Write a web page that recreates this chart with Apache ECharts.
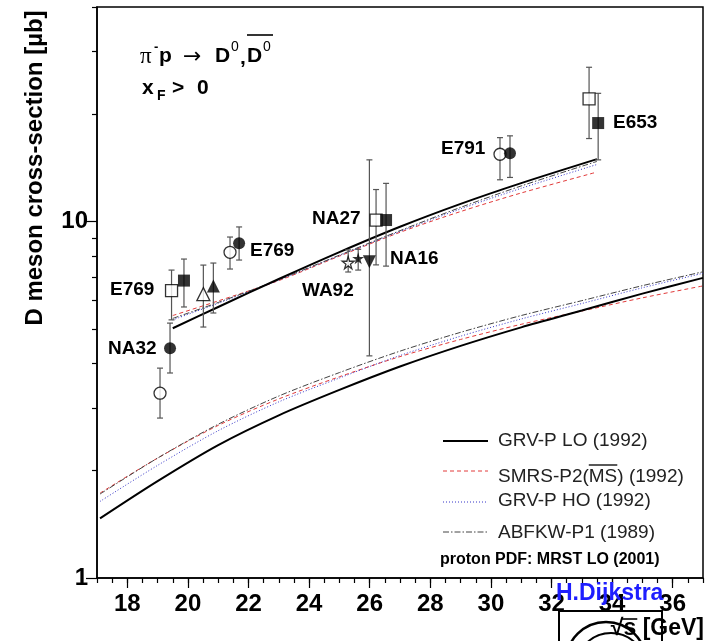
<!DOCTYPE html>
<html><head><meta charset="utf-8">
<script src="https://cdn.jsdelivr.net/npm/echarts@6/dist/echarts.min.js"></script>
<style>html,body{margin:0;padding:0;background:#fff}#c{width:722px;height:641px}</style>
</head><body><div id="c"></div>
<script>
// ---------- tick labels ----------
const xMajorTicks = [18, 20, 22, 24, 26, 28, 30, 32, 34, 36];
const yMajorTicks = [1, 10];
const yMinorTicks = [2, 3, 4, 5, 6, 7, 8, 9, 20, 30, 40];

// ---------- theory curves ----------
const upperX      = [19.5, 21, 23, 25, 27, 29, 31, 33.5];
const upperGrvLo  = [5.02, 5.76, 6.90, 8.21, 9.67, 11.21, 12.82, 14.97];
const upperSmrs   = [5.45, 5.99, 6.83, 8.00, 9.33, 10.67, 12.03, 13.77];
const upperGrvHo  = [5.30, 5.90, 6.85, 8.03, 9.38, 10.85, 12.40, 14.46];
const upperAbfkw  = [5.35, 5.93, 6.87, 8.05, 9.43, 10.96, 12.59, 14.75];

const lowerX      = [17.1, 19, 21, 23, 25, 27, 29, 31, 33, 35, 37];
const lowerGrvLo  = [1.47, 1.87, 2.36, 2.86, 3.37, 3.92, 4.48, 5.05, 5.63, 6.28, 6.95];
const lowerSmrs   = [1.73, 2.17, 2.68, 3.18, 3.67, 4.18, 4.67, 5.15, 5.61, 6.11, 6.60];
const lowerGrvHo  = [1.64, 2.07, 2.59, 3.12, 3.64, 4.21, 4.77, 5.33, 5.89, 6.52, 7.16];
const lowerAbfkw  = [1.72, 2.17, 2.70, 3.24, 3.77, 4.33, 4.89, 5.45, 6.00, 6.61, 7.23];

// ---------- measurements (x, value, lower, upper) ----------
const openCircleX  = [19.08, 21.39, 30.30];
const openCircleY  = [3.30, 8.20, 15.45];
const openCircleLo = [2.81, 7.36, 13.1];
const openCircleHi = [3.88, 9.05, 17.2];

const filledCircleX  = [19.41, 21.69, 30.63];
const filledCircleY  = [4.41, 8.70, 15.55];
const filledCircleLo = [3.76, 7.80, 13.3];
const filledCircleHi = [5.19, 9.66, 17.4];

const openSquareX  = [19.46, 26.21, 33.24];
const openSquareY  = [6.40, 10.1, 22.1];
const openSquareLo = [5.30, 7.56, 17.1];
const openSquareHi = [7.31, 12.3, 27.1];

const filledSquareX  = [19.87, 26.54, 33.54];
const filledSquareY  = [6.83, 10.1, 18.9];
const filledSquareLo = [5.76, 7.5, 14.9];
const filledSquareHi = [7.85, 12.8, 22.9];

const openTriX  = [20.51]; const openTriY  = [6.26]; const openTriLo  = [5.06]; const openTriHi  = [7.55];
const filledTriX = [20.84]; const filledTriY = [6.60]; const filledTriLo = [5.54]; const filledTriHi = [7.65];
const openStarX = [25.29]; const openStarY = [7.67]; const openStarLo = [7.22]; const openStarHi = [8.33];
const filledStarX = [25.62]; const filledStarY = [7.89]; const filledStarLo = [7.31]; const filledStarHi = [8.36];
const downTriX = [25.99]; const downTriY = [7.72]; const downTriLo = [4.20]; const downTriHi = [14.9];

// ---------- helpers ----------
const zip2 = (a, b) => a.map((v, i) => [v, b[i]]);
const zip4 = (a, b, c, d) => a.map((v, i) => [v, b[i], c[i], d[i]]);
const mctx = document.createElement('canvas').getContext('2d');
function tw(text, font) { mctx.font = font; return mctx.measureText(text).width; }

const STAR = 'path://M50,0 L61,35 L98,35 L68,57 L79,91 L50,70 L21,91 L32,57 L2,35 L39,35 Z';

function errSeries(x, y, lo, hi) {
  return {
    type: 'custom', xAxisIndex: 0, yAxisIndex: 0, z: 3, silent: true,
    data: zip4(x, y, lo, hi),
    encode: { x: 0, y: [1, 2, 3] },
    renderItem(params, api) {
      const xv = api.value(0);
      const pt = api.coord([xv, api.value(3)]);
      const pb = api.coord([xv, api.value(2)]);
      const st = { stroke: '#555', lineWidth: 1.2 };
      const cw = 3;
      return { type: 'group', children: [
        { type: 'line', shape: { x1: pt[0], y1: pt[1], x2: pb[0], y2: pb[1] }, style: st },
        { type: 'line', shape: { x1: pt[0] - cw, y1: pt[1], x2: pt[0] + cw, y2: pt[1] }, style: st },
        { type: 'line', shape: { x1: pb[0] - cw, y1: pb[1], x2: pb[0] + cw, y2: pb[1] }, style: st }
      ]};
    }
  };
}
function markSeries(x, y, symbol, size, filled, rotate) {
  return {
    type: 'scatter', xAxisIndex: 0, yAxisIndex: 0, z: 4, silent: true,
    data: zip2(x, y), symbol, symbolSize: size, symbolRotate: rotate || 0,
    itemStyle: { color: filled ? '#000' : '#fff', borderColor: '#000', borderWidth: filled ? 0 : 1.3 }
  };
}
function curve(x, y, color, width, dash) {
  return {
    type: 'line', xAxisIndex: 0, yAxisIndex: 0, z: 2, silent: true,
    data: zip2(x, y), showSymbol: false, symbol: 'none', smooth: 0.3,
    lineStyle: { color, width, type: dash }
  };
}

const RED = '#e23a3a', BLUE = '#3434c8', DD = '#444';
const DASH_RED = [4, 3], DOT_BLUE = [1, 2], DASHDOT = [6, 2, 1.5, 2];

// ---------- minor x ticks every 0.5 ----------
const xMinorTicks = [];
for (let v = 17; v <= 37.001; v += 0.5) xMinorTicks.push(+v.toFixed(1));

// ---------- graphic annotations ----------
const LF = '"Liberation Sans", Arial, sans-serif';
const g = [];
function T(text, x, y, font, opts) {
  g.push(Object.assign({ type: 'text', x, y, silent: true, z: 100,
    style: Object.assign({ text, font, fill: '#000', align: 'left', verticalAlign: 'middle' }, (opts && opts.style) || {}) },
    opts && opts.el || {}));
}
function L(x1, y1, x2, y2, stroke, lw, dash) {
  g.push({ type: 'line', silent: true, z: 100, shape: { x1, y1, x2, y2 }, style: { stroke, lineWidth: lw, lineDash: dash || null } });
}
// y-axis title
T('D meson cross-section [\u00b5b]', 35, 168, 'bold 24px ' + LF, { style: { align: 'center' }, el: { rotation: Math.PI / 2 } });
// process title
T('\u03c0', 140, 57, '23px "Liberation Serif", serif');
T('-', 154, 47, 'bold 13px ' + LF);
T('p', 159, 56, 'bold 21px ' + LF);
T('\u2192', 183, 57, '22px "DejaVu Sans", sans-serif');
T('D', 215, 56, 'bold 21px ' + LF);
T('0', 231, 47, '14px ' + LF);
T(',', 240, 58, 'bold 21px ' + LF);
T('D', 247, 56, 'bold 21px ' + LF);
T('0', 263, 47, '14px ' + LF);
L(247, 35, 273, 35, '#000', 1.6);
T('x', 142, 88, 'bold 21px ' + LF);
T('F', 157, 96, 'bold 14px ' + LF);
T('>', 172, 88, 'bold 21px ' + LF);
T('0', 197, 88, 'bold 21px ' + LF);
// experiment labels
const PF = 'bold 19px ' + LF;
T('E769', 110, 290, PF); T('NA32', 108, 349, PF); T('E769', 250, 251, PF);
T('WA92', 302, 291, PF); T('NA27', 312, 219, PF); T('NA16', 390, 259, PF);
T('E791', 441, 149, PF); T('E653', 613, 123, PF);
// legend
const LGF = '19px ' + LF;
L(443, 441, 488, 441, '#000', 2);
L(443, 471, 488, 471, RED, 1, DASH_RED);
L(443, 502, 488, 502, BLUE, 1, DOT_BLUE);
L(443, 532, 488, 532, DD, 1, DASHDOT);
T('GRV-P LO (1992)', 498, 441, LGF, { style: { fill: '#222' } });
T('SMRS-P2(MS) (1992)', 498, 477, LGF, { style: { fill: '#222' } });
const ms0 = 498 + tw('SMRS-P2(', LGF), ms1 = ms0 + tw('MS', LGF);
L(ms0, 465, ms1, 465, '#222', 1.5);
T('GRV-P HO (1992)', 498, 501, LGF, { style: { fill: '#222' } });
T('ABFKW-P1 (1989)', 498, 533, LGF, { style: { fill: '#222' } });
T('proton PDF: MRST LO (2001)', 440, 560, 'bold 16px ' + LF);
// x-axis title & logo
g.push({ type: 'rect', silent: true, z: 99, shape: { x: 559, y: 611, width: 103, height: 50 }, style: { fill: 'none', stroke: '#000', lineWidth: 2 } });
g.push({ type: 'circle', silent: true, z: 99, shape: { cx: 606, cy: 662, r: 40 }, style: { fill: 'none', stroke: '#000', lineWidth: 2.5 } });
g.push({ type: 'circle', silent: true, z: 99, shape: { cx: 611, cy: 668, r: 35 }, style: { fill: 'none', stroke: '#000', lineWidth: 2 } });
const XTF = 'bold 23px ' + LF;
T('\u221as [GeV]', 704, 629, XTF, { style: { align: 'right' } });
const sx1 = 704 - tw(' [GeV]', XTF), sx0 = sx1 - tw('s', XTF);
L(sx0 - 2, 619, sx1 + 1, 619, '#000', 1.6);
T('H.Dijkstra', 556, 594, 'bold 23px ' + LF, { style: { fill: '#1e1eff' } });

// ---------- chart ----------
const chart = echarts.init(document.getElementById('c'), null, { renderer: 'canvas', width: 722, height: 641 });
const axisLbl = { fontFamily: LF, fontWeight: 'bold', fontSize: 24, color: '#000' };
chart.setOption({
  animation: false,
  backgroundColor: '#fff',
  grid: { left: 97, right: 19, top: 7, bottom: 63, containLabel: false, outerBoundsMode: 'none',
          show: true, borderColor: '#000', borderWidth: 1.5, backgroundColor: 'transparent' },
  xAxis: [
    { type: 'value', min: 17, max: 37, position: 'bottom',
      axisLine: { show: true, lineStyle: { color: '#000', width: 1.5 } },
      axisTick: { show: true, customValues: xMajorTicks, length: 10, lineStyle: { color: '#000', width: 1.2 } },
      axisLabel: Object.assign({ customValues: xMajorTicks, margin: 14 }, axisLbl),
      splitLine: { show: false } },
    { type: 'value', min: 17, max: 37, position: 'bottom',
      axisLine: { show: false },
      axisTick: { show: true, customValues: xMinorTicks, length: 5, lineStyle: { color: '#000', width: 1.2 } },
      axisLabel: { show: false }, splitLine: { show: false } }
  ],
  yAxis: [
    { type: 'log', logBase: 10, min: 1, max: 40, position: 'left',
      axisLine: { show: true, lineStyle: { color: '#000', width: 1.5 } },
      axisTick: { show: true, customValues: yMajorTicks, length: 11, lineStyle: { color: '#000', width: 1.2 } },
      axisLabel: Object.assign({ customValues: yMajorTicks, margin: 9 }, axisLbl),
      splitLine: { show: false } },
    { type: 'log', logBase: 10, min: 1, max: 40, position: 'left',
      axisLine: { show: false },
      axisTick: { show: true, customValues: yMinorTicks, length: 5, lineStyle: { color: '#000', width: 1.2 } },
      axisLabel: { show: false }, splitLine: { show: false } }
  ],
  series: [
    curve(lowerX, lowerSmrs, RED, 1, DASH_RED),
    curve(lowerX, lowerGrvHo, BLUE, 1, DOT_BLUE),
    curve(lowerX, lowerAbfkw, DD, 1, DASHDOT),
    curve(lowerX, lowerGrvLo, '#000', 2, 'solid'),
    curve(upperX, upperSmrs, RED, 1, DASH_RED),
    curve(upperX, upperGrvHo, BLUE, 1, DOT_BLUE),
    curve(upperX, upperAbfkw, DD, 1, DASHDOT),
    curve(upperX, upperGrvLo, '#000', 2, 'solid'),
    errSeries(openCircleX, openCircleY, openCircleLo, openCircleHi),
    errSeries(filledCircleX, filledCircleY, filledCircleLo, filledCircleHi),
    errSeries(openSquareX, openSquareY, openSquareLo, openSquareHi),
    errSeries(filledSquareX, filledSquareY, filledSquareLo, filledSquareHi),
    errSeries(openTriX, openTriY, openTriLo, openTriHi),
    errSeries(filledTriX, filledTriY, filledTriLo, filledTriHi),
    errSeries(openStarX, openStarY, openStarLo, openStarHi),
    errSeries(filledStarX, filledStarY, filledStarLo, filledStarHi),
    errSeries(downTriX, downTriY, downTriLo, downTriHi),
    markSeries(openCircleX, openCircleY, 'circle', 12, false),
    markSeries(filledCircleX, filledCircleY, 'circle', 12, true),
    markSeries(openSquareX, openSquareY, 'rect', 12, false),
    markSeries(filledSquareX, filledSquareY, 'rect', 12, true),
    markSeries(openTriX, openTriY, 'triangle', 13, false),
    markSeries(filledTriX, filledTriY, 'triangle', 13, true),
    markSeries(openStarX, openStarY, STAR, 12, false),
    markSeries(filledStarX, filledStarY, STAR, 12, true),
    markSeries(downTriX, downTriY, 'triangle', 13, true, 180)
  ],
  graphic: { elements: g }
});
</script>
</body></html>
